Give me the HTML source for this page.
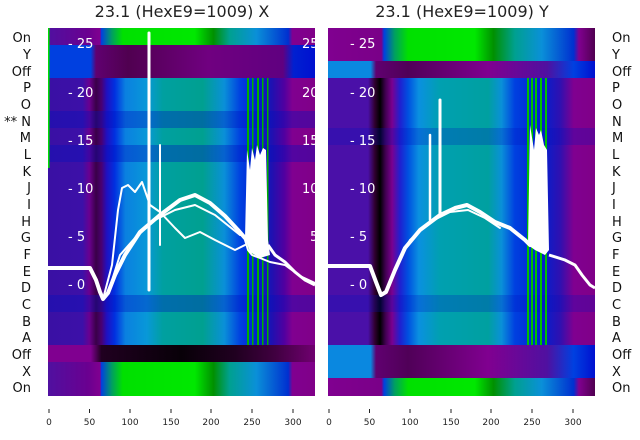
<!DOCTYPE html>
<html><head><meta charset="utf-8"><style>
body{margin:0;background:#fff;}
svg{display:block;font-family:"DejaVu Sans","Liberation Sans",sans-serif;}
</style></head><body>
<svg width="640" height="440" viewBox="0 0 640 440">
<defs>
<linearGradient id="dL" x1="0" x2="1" y1="0" y2="0">
<stop offset="0" stop-color="#3a10a4"/><stop offset="0.13" stop-color="#3c10a8"/>
<stop offset="0.155" stop-color="#6a0090"/><stop offset="0.18" stop-color="#3a0048"/>
<stop offset="0.2" stop-color="#4a0070"/><stop offset="0.22" stop-color="#2010c0"/>
<stop offset="0.25" stop-color="#0030e0"/><stop offset="0.29" stop-color="#0a80e0"/>
<stop offset="0.37" stop-color="#0898d8"/><stop offset="0.43" stop-color="#00a0a0"/>
<stop offset="0.58" stop-color="#00a090"/><stop offset="0.66" stop-color="#0a90d8"/>
<stop offset="0.72" stop-color="#0040e0"/><stop offset="0.78" stop-color="#0020d0"/>
<stop offset="0.84" stop-color="#2010b0"/><stop offset="0.885" stop-color="#5000a0"/>
<stop offset="0.915" stop-color="#800090"/><stop offset="1" stop-color="#800088"/>
</linearGradient>
<linearGradient id="dR" x1="0" x2="1" y1="0" y2="0">
<stop offset="0" stop-color="#4a10a8"/><stop offset="0.15" stop-color="#4a10a8"/>
<stop offset="0.175" stop-color="#300030"/><stop offset="0.195" stop-color="#000000"/>
<stop offset="0.215" stop-color="#400050"/><stop offset="0.24" stop-color="#7a0090"/>
<stop offset="0.27" stop-color="#2020d0"/><stop offset="0.3" stop-color="#0050e0"/>
<stop offset="0.34" stop-color="#0a90e0"/><stop offset="0.42" stop-color="#00a0b0"/>
<stop offset="0.6" stop-color="#00a0a0"/><stop offset="0.65" stop-color="#0a90d8"/>
<stop offset="0.7" stop-color="#0040e0"/><stop offset="0.8" stop-color="#0020d0"/>
<stop offset="0.87" stop-color="#3010b0"/><stop offset="0.92" stop-color="#800090"/>
<stop offset="1" stop-color="#800088"/>
</linearGradient>
<linearGradient id="onL" x1="0" x2="1" y1="0" y2="0">
<stop offset="0" stop-color="#5010a0"/><stop offset="0.15" stop-color="#6a0090"/>
<stop offset="0.195" stop-color="#800090"/><stop offset="0.2" stop-color="#0040e0"/>
<stop offset="0.24" stop-color="#00a060"/><stop offset="0.28" stop-color="#00e000"/>
<stop offset="0.55" stop-color="#00e800"/><stop offset="0.62" stop-color="#009000"/>
<stop offset="0.68" stop-color="#00a090"/><stop offset="0.78" stop-color="#0a90d8"/>
<stop offset="0.9" stop-color="#0030d0"/><stop offset="0.915" stop-color="#800090"/>
<stop offset="1" stop-color="#800088"/>
</linearGradient>
<linearGradient id="onR" x1="0" x2="1" y1="0" y2="0">
<stop offset="0" stop-color="#800090"/><stop offset="0.2" stop-color="#7a0088"/>
<stop offset="0.21" stop-color="#0040e0"/><stop offset="0.25" stop-color="#00a060"/>
<stop offset="0.3" stop-color="#00e000"/><stop offset="0.55" stop-color="#00e800"/>
<stop offset="0.62" stop-color="#009000"/><stop offset="0.7" stop-color="#00a090"/>
<stop offset="0.8" stop-color="#0a90d8"/><stop offset="0.92" stop-color="#0030d0"/>
<stop offset="0.94" stop-color="#800090"/><stop offset="1" stop-color="#500050"/>
</linearGradient>
<linearGradient id="offBlackL" x1="0" x2="1" y1="0" y2="0">
<stop offset="0" stop-color="#800090"/><stop offset="0.16" stop-color="#800090"/>
<stop offset="0.2" stop-color="#200020"/><stop offset="0.5" stop-color="#080008"/>
<stop offset="0.7" stop-color="#200020"/><stop offset="0.85" stop-color="#400040"/>
<stop offset="1" stop-color="#700070"/>
</linearGradient>
<linearGradient id="offTopL" x1="0" x2="1" y1="0" y2="0">
<stop offset="0" stop-color="#0040e0"/><stop offset="0.16" stop-color="#0040e0"/>
<stop offset="0.18" stop-color="#600070"/><stop offset="0.3" stop-color="#500050"/>
<stop offset="0.6" stop-color="#700080"/><stop offset="0.88" stop-color="#600080"/>
<stop offset="0.92" stop-color="#0020d0"/><stop offset="1" stop-color="#0010d0"/>
</linearGradient>
<linearGradient id="offR" x1="0" x2="1" y1="0" y2="0">
<stop offset="0" stop-color="#0a88e0"/><stop offset="0.16" stop-color="#0a88e0"/>
<stop offset="0.18" stop-color="#600070"/><stop offset="0.3" stop-color="#500058"/>
<stop offset="0.6" stop-color="#800090"/><stop offset="0.82" stop-color="#5010a0"/>
<stop offset="0.92" stop-color="#0040e0"/><stop offset="1" stop-color="#0010d0"/>
</linearGradient>
</defs>

<text x="182" y="17" font-size="16" text-anchor="middle" fill="#222">23.1 (HexE9=1009) X</text>
<text x="462" y="17" font-size="16" text-anchor="middle" fill="#222">23.1 (HexE9=1009) Y</text>

<!-- LEFT PANEL -->
<rect x="48" y="28" width="267" height="17" fill="url(#onL)"/>
<rect x="48" y="45" width="267" height="33" fill="url(#offTopL)"/>
<rect x="48" y="78" width="267" height="267" fill="url(#dL)"/>
<g fill="#0010c0" opacity="0.35">
<rect x="48" y="111" width="267" height="17"/><rect x="48" y="145" width="267" height="17"/>
<rect x="48" y="295" width="267" height="17"/>
</g>
<rect x="48" y="345" width="267" height="17" fill="url(#offBlackL)"/>
<rect x="48" y="362" width="267" height="34" fill="url(#onL)"/>
<rect x="48" y="28" width="1.5" height="140" fill="#00e000"/>
<g fill="#00b000">
<rect x="247" y="78" width="2" height="267"/><rect x="252" y="78" width="1.5" height="267"/>
<rect x="257" y="78" width="2" height="267"/><rect x="262" y="78" width="1.5" height="267"/>
<rect x="267" y="78" width="1.5" height="267"/>
</g>
<!-- RIGHT PANEL -->
<rect x="328" y="28" width="267" height="33" fill="url(#onR)"/>
<rect x="328" y="61" width="267" height="17" fill="url(#offR)"/>
<rect x="328" y="78" width="267" height="267" fill="url(#dR)"/>
<g fill="#0010c0" opacity="0.25">
<rect x="328" y="295" width="267" height="17"/><rect x="328" y="128" width="267" height="17"/>
</g>
<rect x="328" y="345" width="267" height="33" fill="url(#offR)"/>
<rect x="328" y="378" width="267" height="18" fill="url(#onR)"/>
<g fill="#00c000">
<rect x="527" y="78" width="2" height="267"/><rect x="531" y="78" width="2" height="267"/>
<rect x="535" y="78" width="2" height="267"/><rect x="540" y="78" width="2" height="267"/>
<rect x="545" y="78" width="2" height="267"/>
</g>

<!-- white curves left -->
<g fill="none" stroke="#fff" stroke-linejoin="round" stroke-linecap="round">
<polyline stroke-width="4" points="48,268 90,268 96,280 100,292 103,299 108,293 115,275 125,255 140,232 160,215 180,200 195,195 210,203 225,216 238,230 245,238"/>
<polyline stroke-width="2" points="103,299 112,265 118,210 122,188 128,185 135,192 142,182 150,205 160,212 175,228 185,238 200,232 215,240 235,250 245,245"/>
<polyline stroke-width="2" points="108,293 120,255 135,238 155,220 175,210 195,205 215,215 240,235"/>
<polyline stroke-width="2" points="245,240 248,250 252,255 260,258 270,262 285,265 300,276 315,283"/>
<polyline stroke-width="3" points="149,290 149,33"/>
<polyline stroke-width="2" points="160,245 160,145"/>
</g>
<polygon fill="#fff" points="245,238 247,150 250,170 252,148 255,160 257,145 260,155 263,148 266,150 268,240 270,255 260,258 250,252"/>
<polyline fill="none" stroke="#fff" stroke-width="3" points="268,245 275,255 285,262 295,272 305,280 315,285"/>
<!-- white curves right -->
<g fill="none" stroke="#fff" stroke-linejoin="round" stroke-linecap="round">
<polyline stroke-width="4" points="328,266 370,266 376,282 381,295 386,292 395,270 405,248 420,230 440,215 455,208 467,205 480,212 495,222 510,228 525,240 530,245"/>
<polyline stroke-width="2" points="386,292 398,262 410,240 430,222 450,212 468,210 485,218 500,228"/>
<polyline stroke-width="2.5" points="430,220 430,135"/>
<polyline stroke-width="3" points="440,215 440,100"/>
</g>
<polygon fill="#fff" points="528,245 530,125 534,150 536,128 539,135 541,130 544,145 547,150 549,250 545,255 535,250"/>
<polyline fill="none" stroke="#fff" stroke-width="3" points="549,255 565,260 575,265 582,275 590,285 595,288"/>

<g fill="#fff" font-size="13">
<text x="68" y="48">- 25</text><text x="68" y="97">- 20</text><text x="68" y="145">- 15</text>
<text x="68" y="193">- 10</text><text x="68" y="241">- 5</text><text x="68" y="289">- 0</text>
<text x="302" y="48">25</text><text x="302" y="97">20</text><text x="302" y="145">15</text>
<text x="302" y="193">10</text><text x="310" y="241">5</text>
<text x="350" y="48">- 25</text><text x="350" y="97">- 20</text><text x="350" y="145">- 15</text>
<text x="350" y="193">- 10</text><text x="350" y="241">- 5</text><text x="350" y="289">- 0</text>
</g>

<g font-size="13" fill="#111" text-anchor="end">
<text x="31" y="42">On</text><text x="31" y="59">Y</text><text x="31" y="76">Off</text>
<text x="31" y="92">P</text><text x="31" y="109">O</text><text x="31" y="126">** N</text>
<text x="31" y="142">M</text><text x="31" y="159">L</text><text x="31" y="176">K</text>
<text x="31" y="192">J</text><text x="31" y="209">I</text><text x="31" y="226">H</text>
<text x="31" y="242">G</text><text x="31" y="259">F</text><text x="31" y="276">E</text>
<text x="31" y="292">D</text><text x="31" y="309">C</text><text x="31" y="326">B</text>
<text x="31" y="342">A</text><text x="31" y="359">Off</text><text x="31" y="376">X</text>
<text x="31" y="392">On</text>
</g>
<g font-size="13" fill="#111">
<text x="612" y="42">On</text><text x="612" y="59">Y</text><text x="612" y="76">Off</text>
<text x="612" y="92">P</text><text x="612" y="109">O</text><text x="612" y="126">N</text>
<text x="612" y="142">M</text><text x="612" y="159">L</text><text x="612" y="176">K</text>
<text x="612" y="192">J</text><text x="612" y="209">I</text><text x="612" y="226">H</text>
<text x="612" y="242">G</text><text x="612" y="259">F</text><text x="612" y="276">E</text>
<text x="612" y="292">D</text><text x="612" y="309">C</text><text x="612" y="326">B</text>
<text x="612" y="342">A</text><text x="612" y="359">Off</text><text x="612" y="376">X</text>
<text x="612" y="392">On</text>
</g>

<g stroke="#222" stroke-width="1">
<line x1="49" y1="409" x2="49" y2="413"/><line x1="89.5" y1="409" x2="89.5" y2="413"/>
<line x1="130" y1="409" x2="130" y2="413"/><line x1="171" y1="409" x2="171" y2="413"/>
<line x1="211" y1="409" x2="211" y2="413"/><line x1="252" y1="409" x2="252" y2="413"/>
<line x1="293" y1="409" x2="293" y2="413"/>
<line x1="329" y1="409" x2="329" y2="413"/><line x1="369.5" y1="409" x2="369.5" y2="413"/>
<line x1="410" y1="409" x2="410" y2="413"/><line x1="451" y1="409" x2="451" y2="413"/>
<line x1="491" y1="409" x2="491" y2="413"/><line x1="532" y1="409" x2="532" y2="413"/>
<line x1="573" y1="409" x2="573" y2="413"/>
</g>
<g font-size="9" fill="#222" text-anchor="middle">
<text x="49" y="425">0</text><text x="89.5" y="425">50</text><text x="130" y="425">100</text>
<text x="171" y="425">150</text><text x="211" y="425">200</text><text x="252" y="425">250</text>
<text x="293" y="425">300</text>
<text x="329" y="425">0</text><text x="369.5" y="425">50</text><text x="410" y="425">100</text>
<text x="451" y="425">150</text><text x="491" y="425">200</text><text x="532" y="425">250</text>
<text x="573" y="425">300</text>
</g>
</svg>
</body></html>
